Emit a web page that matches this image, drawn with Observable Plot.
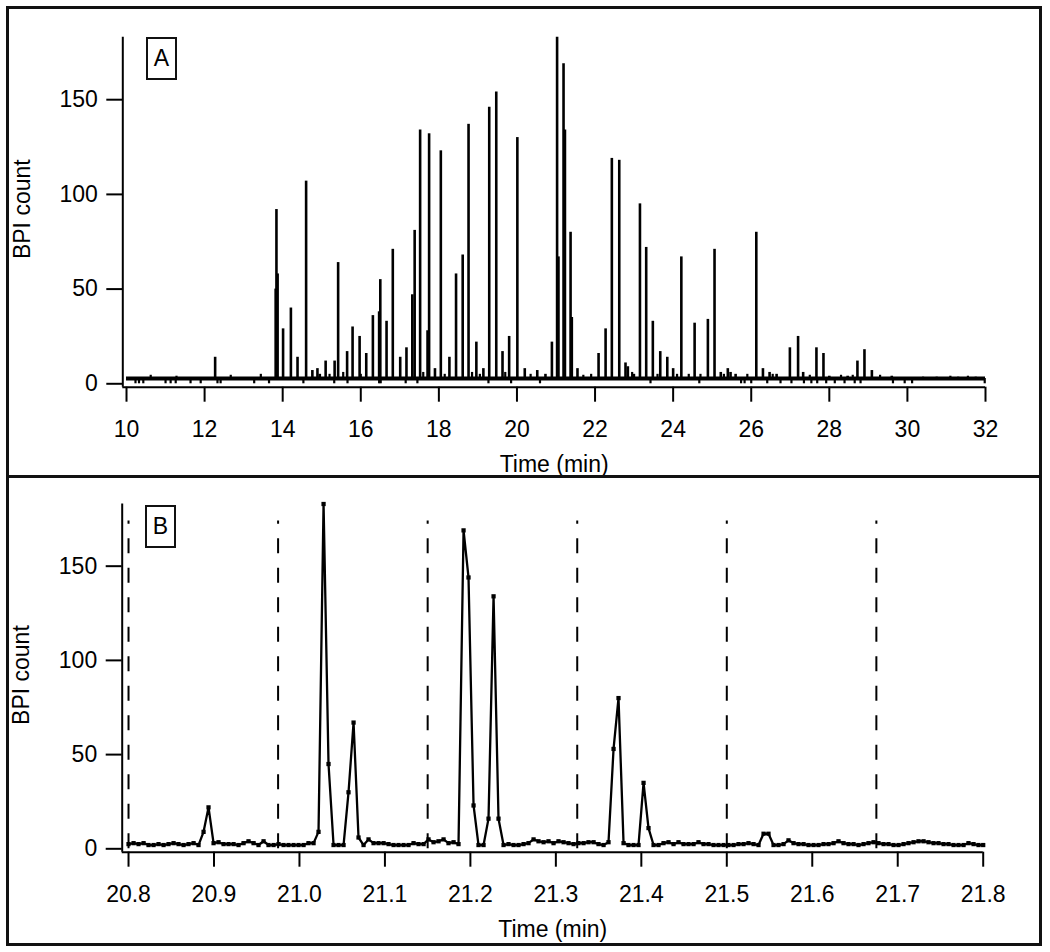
<!DOCTYPE html>
<html><head><meta charset="utf-8">
<script src="https://cdn.jsdelivr.net/npm/d3@7"></script>
<script src="https://cdn.jsdelivr.net/npm/@observablehq/plot@0.6"></script>
<style>
body{margin:0;background:#fff;font-family:"Liberation Sans",Arial,sans-serif;}
#wrap{position:relative;width:1050px;height:952px;overflow:hidden;background:#fff}
.panel{position:absolute;left:0;width:1050px;height:476px}
.frame{position:absolute;box-sizing:border-box;border:3px solid #111;left:6px;width:1036px;pointer-events:none}
.tag{position:absolute;box-sizing:border-box;border:2px solid #111;width:31px;height:43px;font-size:23px;line-height:39px;text-align:center;color:#000;background:#fff}
</style></head><body>
<div id="wrap">
 <div id="pa" class="panel" style="top:0"></div>
 <div id="pb" class="panel" style="top:476px"></div>
 <div class="frame" style="top:6px;height:472px"></div>
 <div class="frame" style="top:475px;height:471px"></div>
 <div class="tag" style="left:146px;top:37px">A</div>
 <div class="tag" style="left:145px;top:505px">B</div>
</div>
<script>
// ---------- shared ----------
const yDomain = [-1.8, 183];
const yTicks = [0, 50, 100, 150];
const xTitle = "Time (min)";
const yTitle = "BPI count";

// ---------- panel A: full chromatogram ----------
const aXDomain = [9.905, 32];
const aXTicks = [10, 12, 14, 16, 18, 20, 22, 24, 26, 28, 30, 32];
const aRange = [10, 32];
const aBase = 2.8;
const aPeakT = [12.27, 13.82, 13.84, 13.87, 14.01, 14.21, 14.38, 14.60, 14.76, 14.89, 14.95, 15.10, 15.33, 15.42, 15.65, 15.79, 15.97, 16.14, 16.31, 16.47, 16.50, 16.66, 16.82, 17.01, 17.17, 17.32, 17.38, 17.52, 17.71, 17.75, 17.90, 18.05, 18.27, 18.44, 18.61, 18.76, 18.96, 19.14, 19.29, 19.47, 19.63, 19.80, 20.01, 20.20, 20.52, 20.73, 20.895, 21.028, 21.063, 21.193, 21.229, 21.373, 21.405, 21.55, 22.09, 22.27, 22.43, 22.62, 22.78, 22.84, 23.15, 23.31, 23.48, 23.67, 23.85, 24.00, 24.21, 24.55, 24.89, 25.06, 25.22, 25.40, 25.47, 25.60, 26.13, 26.30, 26.47, 26.65, 26.99, 27.20, 27.33, 27.67, 27.85, 28.00, 28.47, 28.72, 28.90, 29.09, 29.60];
const aPeakH = [14, 50, 92, 58, 29, 40, 14, 107, 7, 8, 5, 12, 12, 64, 17, 30, 25, 16, 36, 38, 55, 33, 71, 14, 19, 47, 81, 134, 28, 132, 8, 123, 14, 58, 68, 137, 22, 8, 146, 154, 17, 25, 130, 8, 7, 5, 22, 183, 67, 169, 134, 80, 35, 8, 16, 29, 119, 118, 11, 9, 95, 72, 33, 17, 14, 8, 67, 32, 34, 71, 6, 8, 6, 5, 80, 8, 6, 5, 19, 25, 6, 19, 16, 4, 4, 12, 18, 7, 4];
const aBumpT = [10.62, 11.28, 12.67, 13.44, 15.2, 15.55, 16.0, 17.6, 18.15, 18.85, 19.05, 19.7, 20.35, 21.7, 21.9, 22.95, 23.0, 23.6, 24.1, 24.4, 24.7, 25.3, 25.9, 26.55, 27.5, 28.3, 28.6, 29.3, 30.4, 30.75, 31.1, 31.3, 31.55, 31.75];
const aBumpH = [4.5, 4, 4.5, 5, 5, 6, 5, 6, 5, 6, 5, 6, 5, 4.5, 5, 6, 5, 5, 5, 5, 5, 5, 5, 5, 4.5, 4.5, 4.5, 4.5, 3.5, 3.5, 4, 3.5, 4, 3.5];
const aDipT = [10.23, 10.32, 10.43, 11.0, 11.13, 11.26, 11.64, 11.9, 12.33, 12.41, 13.27, 13.65, 14.53, 15.32, 15.66, 16.47, 16.51, 17.15, 17.45, 19.27, 19.85, 20.59, 23.42, 24.67, 25.74, 25.83, 26.0, 26.41, 26.75, 27.03, 27.35, 27.54, 27.69, 27.92, 28.14, 28.39, 28.65, 28.8, 29.63, 29.93, 30.12, 31.98];

// ---------- panel B: zoom 20.8 - 21.8 min ----------
const bXDomain = [20.7926, 21.8];
const bXTicks = [20.8, 20.9, 21.0, 21.1, 21.2, 21.3, 21.4, 21.5, 21.6, 21.7, 21.8];
const bDashT = [20.8, 20.975, 21.15, 21.325, 21.5, 21.675];
const bDashTop = 174;
const bTime = [20.8000,20.8059,20.8117,20.8176,20.8234,20.8293,20.8351,20.8410,20.8468,20.8527,
20.8585,20.8644,20.8702,20.8761,20.8819,20.8878,20.8936,20.8995,20.9053,20.9112,
20.9170,20.9229,20.9287,20.9346,20.9404,20.9463,20.9521,20.9580,20.9638,20.9697,
20.9755,20.9814,20.9872,20.9931,20.9989,21.0048,21.0106,21.0165,21.0223,21.0282,
21.0340,21.0399,21.0457,21.0516,21.0574,21.0633,21.0691,21.0750,21.0808,21.0867,
21.0925,21.0984,21.1042,21.1101,21.1159,21.1218,21.1276,21.1335,21.1393,21.1452,
21.1510,21.1569,21.1627,21.1686,21.1744,21.1803,21.1861,21.1920,21.1978,21.2037,
21.2095,21.2154,21.2212,21.2271,21.2329,21.2388,21.2446,21.2505,21.2563,21.2622,
21.2680,21.2739,21.2797,21.2856,21.2914,21.2973,21.3031,21.3090,21.3148,21.3207,
21.3265,21.3324,21.3382,21.3441,21.3499,21.3558,21.3616,21.3675,21.3733,21.3792,
21.3850,21.3909,21.3967,21.4026,21.4084,21.4143,21.4201,21.4260,21.4318,21.4377,
21.4435,21.4494,21.4552,21.4611,21.4669,21.4728,21.4786,21.4845,21.4903,21.4962,
21.5020,21.5079,21.5137,21.5196,21.5254,21.5313,21.5371,21.5430,21.5488,21.5547,
21.5605,21.5664,21.5722,21.5781,21.5839,21.5898,21.5956,21.6015,21.6073,21.6132,
21.6190,21.6249,21.6307,21.6366,21.6424,21.6483,21.6541,21.6600,21.6658,21.6717,
21.6775,21.6834,21.6892,21.6951,21.7009,21.7068,21.7126,21.7185,21.7243,21.7302,
21.7360,21.7419,21.7477,21.7536,21.7594,21.7653,21.7711,21.7770,21.7828,21.7887,
21.7945,21.8000];
const bValue = [2.5,3,2.5,3,2,2,2.5,2,2.5,3,2.5,2,2.5,3,2,
9,22,3,
3.5,2.5,2.5,2.5,2,3,4,3,2,4,2,2,2.5,
2,2,2,2,2,3,3,
9,183,45,2,2,2,30,67,6,2,5,
3,3,3,2.5,2,2,2,2,3,2.5,2.5,
5,3.5,4,5,3,3.5,2.5,
169,144,23,2,2,16,134,16,2,
2.5,2,2,2.5,3,5,4,3.5,4,3,4,3.5,
3,2.5,3,3,3.5,3.5,2.5,2,
3.5,53,80,3,
2,2,2,35,11,2,
2,3,3.5,2.5,3.5,2.5,2.5,2.5,3.5,2.5,2.5,2,2,2,2,2,2.5,2.5,3,2.5,2,
8,8,2,2,
2.5,4.5,3,2.5,2.5,2,2,2,2.5,2.5,3,
4,3,2.5,2.5,2,2.5,3,
3.5,3,2.5,2.5,2,2,2.5,3,
3.5,4,4,3.5,
3,3,2.5,2.5,2,2,2,3,2.5,2,2];

const FONT = "'Liberation Sans', Arial, Helvetica, sans-serif";
const FS = 23;

function common(xDom, xTicks, fmt) {
  return [
    Plot.axisX({ticks: xTicks, tickFormat: fmt, tickSize: 15, tickPadding: 18, strokeWidth: 2, fontSize: FS, label: null}),
    Plot.axisY({ticks: yTicks, tickSize: 16, tickPadding: 9, strokeWidth: 2, fontSize: FS, label: null}),
    Plot.ruleX([xDom[0]], {strokeWidth: 2, stroke: "#000"}),
    Plot.ruleY([yDomain[0]], {strokeWidth: 2, stroke: "#000"}),
    Plot.text([xTitle], {text: d => d, frameAnchor: "bottom", textAnchor: "middle", dy: 77.5, lineAnchor: "middle", fontSize: FS, fill: "#000"}),
    Plot.text([yTitle], {text: d => d, frameAnchor: "left", textAnchor: "middle", rotate: -90, dx: -100.6, dy: -3, lineAnchor: "middle", fontSize: FS, fill: "#000"})
  ];
}

const aPeaks = aPeakT.map((t, i) => ({t, h: aPeakH[i]}));
const aBumps = aBumpT.map((t, i) => ({t, h: aBumpH[i]}));

const plotA = Plot.plot({
  width: 1050, height: 476,
  marginLeft: 122.3, marginRight: 65, marginTop: 36.7, marginBottom: 89.3,
  x: {domain: aXDomain},
  y: {domain: yDomain},
  style: {fontFamily: FONT, fontSize: FS + "px", color: "#000", background: "transparent", overflow: "visible"},
  marks: [
    Plot.ruleY([aBase], {x1: aRange[0], x2: aRange[1], strokeWidth: 4, stroke: "#000"}),
    Plot.ruleX(aDipT, {x: d => d, y1: 0, y2: aBase, strokeWidth: 2.2, stroke: "#000"}),
    Plot.ruleX(aBumps, {x: "t", y1: aBase, y2: "h", strokeWidth: 2.2, stroke: "#000"}),
    Plot.ruleX(aPeaks, {x: "t", y1: aBase, y2: "h", strokeWidth: 2.6, stroke: "#000"}),
    ...common(aXDomain, aXTicks, d => String(d))
  ]
});
document.getElementById("pa").appendChild(plotA);

const bData = bTime.map((t, i) => ({t, v: bValue[i]}));
const plotB = Plot.plot({
  width: 1050, height: 476,
  marginLeft: 121.7, marginRight: 67.3, marginTop: 27.5, marginBottom: 100.3,
  x: {domain: bXDomain},
  y: {domain: yDomain},
  style: {fontFamily: FONT, fontSize: FS + "px", color: "#000", background: "transparent", overflow: "visible"},
  marks: [
    Plot.ruleX(bDashT, {x: d => d, y1: 0, y2: bDashTop, strokeWidth: 2, stroke: "#000", strokeDasharray: "15,14.5"}),
    Plot.line(bData, {x: "t", y: "v", strokeWidth: 2.3, stroke: "#000"}),
    Plot.dot(bData, {x: "t", y: "v", symbol: "square", r: 2.4, fill: "#000", stroke: "none"}),
    ...common(bXDomain, bXTicks, d3.format(".1f"))
  ]
});
document.getElementById("pb").appendChild(plotB);
</script>
</body></html>
